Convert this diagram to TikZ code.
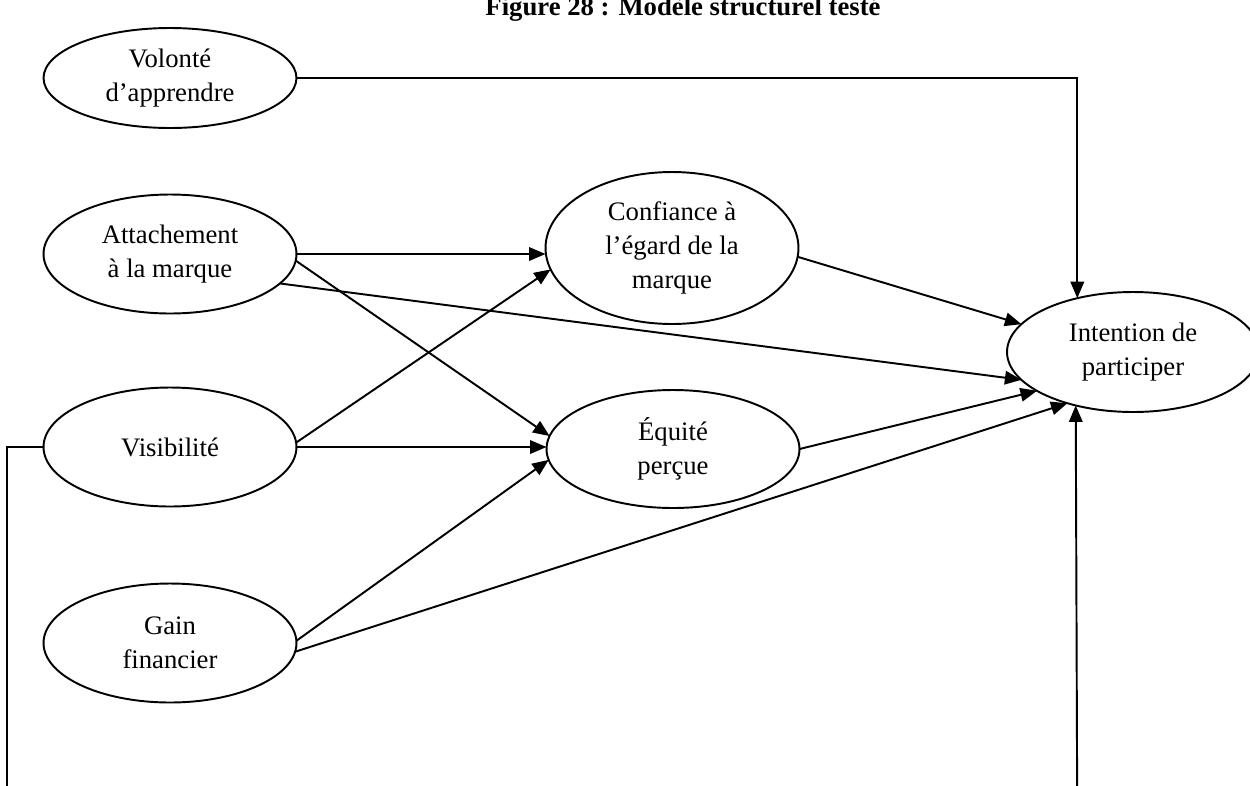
\documentclass[tikz,border=0pt]{standalone}
\usepackage{fontspec}
\setmainfont{Liberation Serif}
\usetikzlibrary{shapes.geometric,arrows.meta}
\begin{document}
\begin{tikzpicture}[x=0.02cm,y=-0.02cm,
  lat/.style={ellipse,draw,line width=1.1pt,inner sep=0pt,outer sep=0pt,align=center,
    minimum width=5.06cm,minimum height=2.38cm,font=\fontsize{15.2}{19.4}\selectfont},
  arr/.style={line width=1.1pt,-{Triangle[length=0.33cm,width=0.27cm]}}]
\useasboundingbox (0,0) rectangle (1250,785);
\clip (0,0) rectangle (1250,785);
\node[font=\fontsize{15.2}{19.4}\selectfont\bfseries, anchor=base, inner sep=0pt] (title) at (683,15) {Figure 28 : Modèle structurel testé};
\node[lat,minimum height=2cm] (vol) at (170,78) {Volonté\\d’apprendre};
\node[lat] (att) at (170,254) {Attachement\\à la marque};
\node[lat] (vis) at (170,447) {Visibilité};
\node[lat] (gain) at (170,643) {Gain\\financier};
\node[lat,minimum height=3.04cm] (conf) at (672,248) {Confiance à\\l’égard de la\\marque};
\node[lat,minimum height=2.36cm] (equ) at (673,449) {Équité\\perçue};
\node[lat,minimum width=5.04cm,minimum height=2.4cm] (int) at (1133,352) {Intention de\\participer};
\coordinate (leftx) at (7,0);
\coordinate (vc) at (int.136.8 |- vol.east);
\coordinate (bot) at (7,830);
\draw[arr] (att.east) -- (att.east -| conf.west);
\draw[arr] (att.-3) -- (equ.174);
\draw[arr] (att.-15.5) -- (int.194);
\draw[arr] (vis.2) -- (conf.190);
\draw[arr] (vis.east) -- (vis.east -| equ.west);
\draw[arr] (gain.1.5) -- (equ.185);
\draw[arr] (gain.-4) -- (int.218);
\draw[arr] (conf.-4) -- (int.166);
\draw[arr] (equ.east) -- (int.202);
\draw[arr] (vol.east) -- (vc) -- (int.136.8);
\draw[arr] (vis.west) -- (vis.west -| leftx) -- (bot) -- (bot -| vc) -- (int.223.2);
\end{tikzpicture}
\end{document}
